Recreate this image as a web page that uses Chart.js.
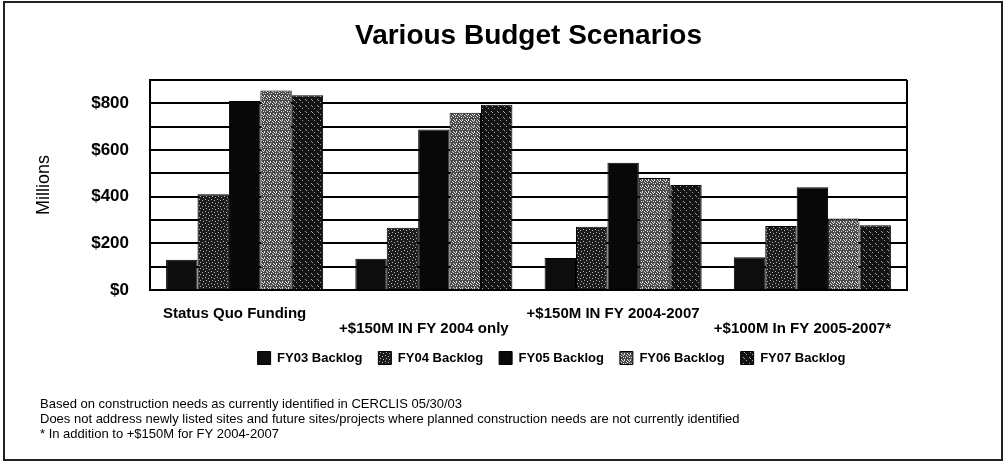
<!DOCTYPE html>
<html>
<head>
<meta charset="utf-8">
<script src="https://cdn.jsdelivr.net/npm/chart.js@4/dist/chart.umd.min.js"></script>
<style>
  html, body { margin: 0; padding: 0; background: #fff; }
  canvas { display: block; }
</style>
</head>
<body>
<canvas id="c" width="1004" height="465"></canvas>
<script>
// ---- data ----
const categories = ['Status Quo Funding', '+$150M IN FY 2004 only', '+$150M IN FY 2004-2007', '+$100M In FY 2005-2007*'];
const seriesNames = ['FY03 Backlog', 'FY04 Backlog', 'FY05 Backlog', 'FY06 Backlog', 'FY07 Backlog'];
const fy03 = [130, 134, 137, 140];
const fy04 = [410, 267, 271, 274];
const fy05 = [810, 688, 545, 440];
const fy06 = [855, 760, 480, 306];
const fy07 = [835, 794, 450, 278];
const yTickValues = [0, 200, 400, 600, 800];
const chartTitle = 'Various Budget Scenarios';
const yTitle = 'Millions';
const footnotes = [
  'Based on construction needs as currently identified in CERCLIS 05/30/03',
  'Does not address newly listed sites and future sites/projects where planned construction needs are not currently identified',
  '* In addition to +$150M for FY 2004-2007'
];

// ---- styling helpers ----
function speckle(base, light, pts) {
  const c = document.createElement('canvas');
  c.width = 6; c.height = 6;
  const x = c.getContext('2d');
  x.fillStyle = base; x.fillRect(0, 0, 6, 6);
  x.fillStyle = light;
  pts.forEach(p => x.fillRect(p[0], p[1], 1, 1));
  return x.createPattern(c, 'repeat');
}
const fills = [
  '#0d0d0d',
  speckle('#1c1c1c', '#b8b8b8', [[1,1],[4,2],[2,4],[5,5]]),
  '#080808',
  speckle('#4a4a4a', '#e0e0e0', [[0,0],[2,1],[4,0],[1,3],[3,2],[5,3],[0,5],[3,5],[5,1]]),
  speckle('#141414', '#a0a0a0', [[2,0],[5,3],[0,4]])
];
const seriesData = [fy03, fy04, fy05, fy06, fy07];

const labels = categories.map((c, i) => i % 2 ? ['', c] : [c, '']);

Chart.defaults.font.family = "'Liberation Sans', Arial, sans-serif";
Chart.defaults.color = '#000';

const framePlugin = {
  id: 'frame',
  afterLayout(chart) {
    const l = chart.legend;
    if (l) { l.left += 23; l.right += 23; }
  },
  afterDraw(chart) {
    const ctx = chart.ctx, a = chart.chartArea;
    ctx.save();
    ctx.strokeStyle = '#000';
    ctx.lineWidth = 2;
    ctx.beginPath();
    ctx.moveTo(a.right, a.top);
    ctx.lineTo(a.right, a.bottom);
    ctx.stroke();
    ctx.strokeStyle = '#222';
    ctx.strokeRect(4, 2, 998, 458);
    ctx.fillStyle = '#000';
    ctx.font = "13px 'Liberation Sans', Arial, sans-serif";
    ctx.textBaseline = 'middle';
    ctx.textAlign = 'left';
    const ys = [404, 419, 434];
    footnotes.forEach((t, i) => ctx.fillText(t, 40, ys[i]));
    ctx.restore();
  }
};

new Chart(document.getElementById('c'), {
  type: 'bar',
  data: {
    labels: labels,
    datasets: seriesNames.map((n, i) => ({
      label: n,
      data: seriesData[i],
      backgroundColor: fills[i],
      borderColor: '#000',
      borderWidth: 1,
      categoryPercentage: 0.83,
      barPercentage: 1.0
    }))
  },
  options: {
    responsive: false,
    animation: false,
    devicePixelRatio: 1,
    layout: { padding: { left: 0, right: 97, top: 0, bottom: 90.5 } },
    plugins: {
      title: {
        display: true,
        text: chartTitle,
        fullSize: false,
        color: '#000',
        font: { size: 28, weight: 'bold' },
        padding: { top: 19, bottom: 27.4 }
      },
      legend: {
        position: 'bottom',
        fullSize: false,
        labels: {
          boxWidth: 13,
          boxHeight: 13,
          padding: 16,
          color: '#000',
          font: { size: 13, weight: 'bold' }
        }
      },
      tooltip: { enabled: false }
    },
    scales: {
      x: {
        grid: { display: false, drawTicks: false },
        border: { display: true, color: '#000', width: 2 },
        ticks: {
          autoSkip: false,
          maxRotation: 0,
          minRotation: 0,
          padding: 16,
          labelOffset: -10,
          color: '#000',
          font: { size: 15, weight: 'bold', lineHeight: 1.0 }
        },
        afterFit(s) { s.height = 45.5; }
      },
      y: {
        min: 0,
        max: 900,
        grid: { color: '#000', lineWidth: 2, drawTicks: false },
        border: { display: true, color: '#000', width: 2 },
        ticks: {
          stepSize: 100,
          autoSkip: false,
          padding: 21,
          color: '#000',
          font: { size: 17, weight: 'bold' },
          callback: v => yTickValues.includes(v) ? '$' + v : ''
        },
        title: {
          display: true,
          text: yTitle,
          color: '#000',
          font: { size: 18 },
          padding: { top: 33, bottom: 0 }
        },
        afterFit(s) { s.width = 150; }
      }
    }
  },
  plugins: [framePlugin]
});
</script>
</body>
</html>
